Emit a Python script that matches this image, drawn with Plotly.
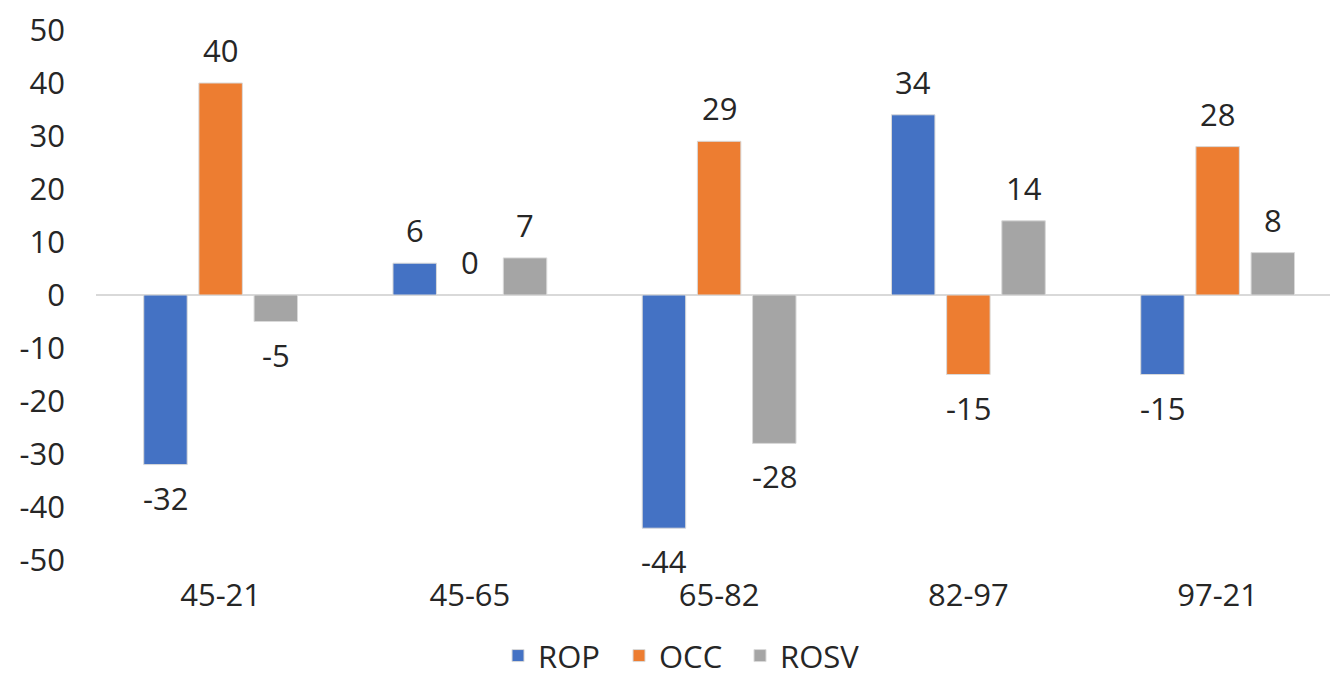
import plotly.graph_objects as go

# Periods and the three series plotted for each
categories = ["45-21", "45-65", "65-82", "82-97", "97-21"]
rop = [-32, 6, -44, 34, -15]
occ = [40, 0, 29, -15, 28]
rosv = [-5, 7, -28, 14, 8]

series_names = ["ROP", "OCC", "ROSV"]
series_values = [rop, occ, rosv]
series_colors = ["#4472C4", "#ED7D31", "#A5A5A5"]

y_ticks = [50, 40, 30, 20, 10, 0, -10, -20, -30, -40, -50]

FONT = "Open Sans"
FONT_SIZE = 31
TEXT_COLOR = "#262626"

BARGAP = 0.336
BARGROUPGAP = 0.212
LABEL_SHIFT = 33

x_idx = list(range(len(categories)))

fig = go.Figure()
for name, vals, color in zip(series_names, series_values, series_colors):
    fig.add_trace(go.Bar(
        name=name,
        x=x_idx,
        y=vals,
        marker=dict(color=color, line=dict(color="#d9d9d9", width=1)),
        hoverinfo="skip",
    ))

# Value labels placed above positive bars and below negative ones
slot = (1 - BARGAP) / len(series_names)
annotations = []
for j, vals in enumerate(series_values):
    offset = (j - (len(series_names) - 1) / 2) * slot
    for i, v in enumerate(vals):
        annotations.append(dict(
            x=i + offset, y=v, xref="x", yref="y",
            text=str(v), showarrow=False,
            yshift=LABEL_SHIFT if v >= 0 else -LABEL_SHIFT,
            font=dict(family=FONT, size=FONT_SIZE, color=TEXT_COLOR),
        ))

fig.update_layout(
    width=1330, height=679,
    margin=dict(l=96, r=0, t=30, b=119),
    paper_bgcolor="white", plot_bgcolor="white",
    barmode="group", bargap=BARGAP, bargroupgap=BARGROUPGAP,
    font=dict(family=FONT, size=FONT_SIZE, color=TEXT_COLOR),
    annotations=annotations,
    showlegend=True,
    legend=dict(
        orientation="h",
        xref="container", yref="container",
        x=498 / 1330, xanchor="left",
        y=0.034, yanchor="middle",
        font=dict(family=FONT, size=FONT_SIZE, color=TEXT_COLOR),
        traceorder="normal",
        entrywidth=76, entrywidthmode="pixels",
    ),
)
fig.update_xaxes(
    range=[-0.5, -0.5 + 1234 / 249.25],
    tickvals=x_idx, ticktext=categories,
    showgrid=False, showline=False, zeroline=False, ticks="",
    ticklabelstandoff=14,
    fixedrange=True,
)
fig.update_yaxes(
    range=[-50, 50],
    tickvals=y_ticks, ticktext=[str(t) for t in y_ticks],
    showgrid=False, showline=False, ticks="",
    zeroline=True, zerolinecolor="#d9d9d9", zerolinewidth=1.5,
    ticklabelstandoff=30,
    fixedrange=True,
)

fig.write_html("out.html")
